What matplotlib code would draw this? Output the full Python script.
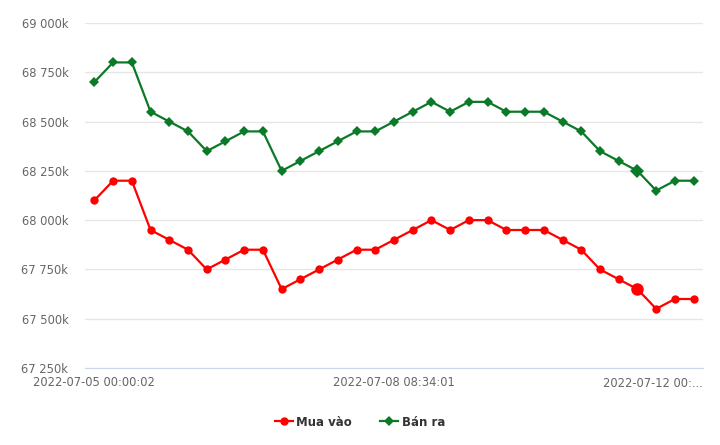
import matplotlib
matplotlib.use("Agg")
import matplotlib.pyplot as plt
from matplotlib.ticker import FuncFormatter
from matplotlib.transforms import ScaledTranslation

# === Data (gold price, thousand VND) ===
mua_vao = [68100, 68200, 68200, 67950, 67900, 67850, 67750, 67800, 67850, 67850,
           67650, 67700, 67750, 67800, 67850, 67850, 67900, 67950, 68000, 67950,
           68000, 68000, 67950, 67950, 67950, 67900, 67850, 67750, 67700, 67650,
           67550, 67600, 67600]
ban_ra = [68700, 68800, 68800, 68550, 68500, 68450, 68350, 68400, 68450, 68450,
          68250, 68300, 68350, 68400, 68450, 68450, 68500, 68550, 68600, 68550,
          68600, 68600, 68550, 68550, 68550, 68500, 68450, 68350, 68300, 68250,
          68150, 68200, 68200]
x_tick_idx = [0, 16, 32]
x_tick_labels = ["2022-07-05 00:00:02", "2022-07-08 08:34:01", "2022-07-12 00:..."]
y_ticks = [67250, 67500, 67750, 68000, 68250, 68500, 68750, 69000]
hover_idx = 29

RED = "#ff0000"
GREEN = "#0a7a28"

fig = plt.figure(figsize=(7.2, 4.45), dpi=100)
ax = fig.add_axes([85 / 720, 1 - 368 / 445, 618 / 720, 345 / 445])

x = list(range(len(mua_vao)))
normal = [i for i in x if i != hover_idx]
ax.plot(x, mua_vao, color=RED, linewidth=1.6, marker="o", markersize=6,
        markeredgewidth=0, markevery=normal, label="Mua vào", zorder=3)
ax.plot(x, ban_ra, color=GREEN, linewidth=1.6, marker="D", markersize=5,
        markeredgewidth=0, markevery=normal, label="Bán ra", zorder=3)

# hovered point (enlarged markers)
ax.plot([hover_idx], [mua_vao[hover_idx]], "o", color=RED, markersize=9,
        markeredgewidth=0, zorder=4)
ax.plot([hover_idx], [ban_ra[hover_idx]], "D", color=GREEN, markersize=7.5,
        markeredgewidth=0, zorder=4)

ax.set_xlim(-0.5, len(x) - 0.5)
ax.set_ylim(67250, 69000)
ax.set_yticks(y_ticks)
ax.yaxis.set_major_formatter(FuncFormatter(lambda v, p: f"{int(v):,}k".replace(",", " ")))
ax.grid(axis="y", color="#e6e6e6", linewidth=1)
ax.set_axisbelow(True)

for s in ["top", "right", "left"]:
    ax.spines[s].set_visible(False)
ax.spines["bottom"].set_color("#ccd6eb")
ax.tick_params(axis="y", length=0, labelsize=8.3, labelcolor="#666666", pad=12)
ax.tick_params(axis="x", length=0)
ax.set_xticks([])

label_shift = ScaledTranslation(0, -0.085, fig.dpi_scale_trans)
for i, lab in zip(x_tick_idx, x_tick_labels):
    if i == len(x) - 1:
        ax.text(1.0, -0.025, lab, transform=ax.transAxes, ha="right", va="top",
                fontsize=8.3, color="#666666")
    else:
        ax.text(i, 67250, lab, ha="center", va="top", fontsize=8.3, color="#666666",
                transform=ax.transData + label_shift)

leg = fig.legend(loc="center", bbox_to_anchor=(0.5, 1 - 422 / 445), ncol=2,
                 frameon=False, fontsize=8.5, handlelength=1.5, columnspacing=2.4,
                 handletextpad=0.3)
for t in leg.get_texts():
    t.set_color("#333333")
    t.set_fontweight("bold")

fig.savefig("out.png", dpi=100)
